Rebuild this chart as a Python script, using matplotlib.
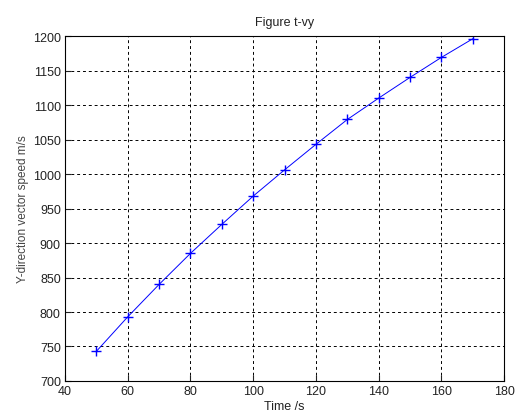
import matplotlib.pyplot as plt

plt.rcParams['font.family'] = ['Liberation Sans', 'DejaVu Sans']

# time (s) and y-direction speed (m/s)
t = [50, 60, 70, 80, 90, 100, 110, 120, 130, 140, 150, 160, 170]
vy = [743, 793, 840, 885, 927, 968, 1006, 1043, 1079, 1110, 1140, 1169, 1196]

fig = plt.figure(figsize=(5.16, 4.14), dpi=100)
ax = fig.add_axes([0.126, 0.0773, 0.851, 0.8333])

ax.plot(t, vy, color='#0000ff', linewidth=0.7, marker='+', markersize=6.5, markeredgewidth=1.0)

ax.set_xlim(40, 180)
ax.set_ylim(700, 1200)
ax.set_xticks(range(40, 181, 20))
ax.set_yticks(range(700, 1201, 50))
ax.grid(True, color='black', linestyle=(0, (3, 3)), linewidth=0.7)
ax.tick_params(direction='in', labelsize=9, colors='#222222', length=4, pad=3)
for s in ax.spines.values():
    s.set_linewidth(0.8)

ax.set_title('Figure t-vy', fontsize=9, pad=8, color='#222222')
ax.set_xlabel('Time /s', fontsize=9, labelpad=2, color='#222222')
ax.set_ylabel('Y-direction vector speed m/s', fontsize=8.5, labelpad=3, color='#444444')

fig.savefig('out.png', dpi=100)
